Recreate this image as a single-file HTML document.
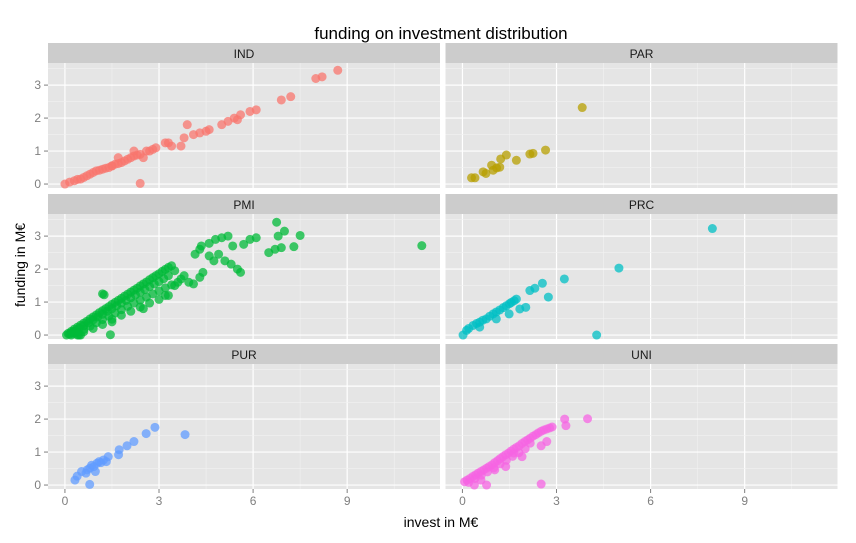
<!DOCTYPE html>
<html><head><meta charset="utf-8"><style>
body{margin:0;background:#fff}
svg{display:block;font-family:"Liberation Sans",sans-serif}
</style></head><body>
<svg id="chart" width="856" height="543">
<text x="441" y="39" text-anchor="middle" font-size="17" fill="#000">funding on investment distribution</text>
<text x="441" y="527" text-anchor="middle" font-size="14" fill="#000">invest in M€</text>
<text transform="translate(25,265) rotate(-90)" text-anchor="middle" font-size="14" fill="#000">funding in M€</text>
</svg>
<script>
const facets = ["IND","PAR","PMI","PRC","PUR","UNI"];
const colors = ["#F8766D","#B79F00","#00BA38","#00BFC4","#619CFF","#F564E3"];
const xTicks = [0,3,6,9];
const yTicks = [0,1,2,3];
const indX=[0,0.15,0.3,0.4,0.5,0.6,0.7,0.8,0.9,1,1.1,1.2,1.3,1.4,1.5,1.6,1.7,1.8,1.9,2,2.1,2.2,2.3,1.7,1.5,2.4,2.6,2.7,2.8,2.9,2.2,2.5,2.4,3.2,3.3,3.4,3.7,3.8,3.9,4.1,4.3,4.5,4.6,5.0,5.2,5.4,5.6,5.9,6.1,5.5,6.9,7.2,8.0,8.2,8.7];
const indY=[0,0.06,0.1,0.14,0.15,0.2,0.25,0.3,0.35,0.4,0.42,0.45,0.48,0.5,0.55,0.6,0.62,0.65,0.7,0.75,0.8,0.85,0.88,0.8,0.55,0.9,1,1.0,1.05,1.1,1.0,0.8,0.02,1.25,1.25,1.15,1.15,1.4,1.8,1.5,1.55,1.6,1.65,1.8,1.9,2.0,2.1,2.2,2.25,1.95,2.55,2.65,3.2,3.25,3.45];
const parX=[0.29,0.4,0.66,0.75,0.93,0.98,1.09,1.19,1.22,1.4,1.72,2.15,2.25,2.65,3.82];
const parY=[0.19,0.19,0.37,0.32,0.57,0.42,0.49,0.51,0.76,0.88,0.72,0.91,0.93,1.03,2.32];
const pmiX=[0.1,0.2,0.3,0.4,0.5,0.6,0.7,0.8,0.9,1.0,1.1,1.2,1.3,1.4,1.5,1.6,1.7,1.8,1.9,2.0,2.1,2.2,2.3,2.4,2.5,2.6,2.7,2.8,2.9,3.0,3.1,3.2,3.3,3.4,
0.2,0.3,0.45,0.6,0.75,0.9,1.05,1.2,1.35,1.5,1.65,1.8,1.95,2.1,2.25,2.4,2.55,2.7,2.85,3.0,3.15,3.3,3.5,
0.3,0.4,0.6,0.8,1.0,1.2,1.4,1.6,1.8,2.0,2.2,2.4,2.6,2.8,3.0,3.2,3.4,3.6,
0.4,0.6,0.9,1.2,1.5,1.8,2.1,2.4,2.7,3.0,3.3,
0.05,0.15,0.25,0.35,0.2,0.5,0.45,1.2,1.25,1.45,1.5,2.5,3.2,3.5,3.7,3.8,3.95,4.1,4.3,4.4,4.6,4.9,4.75,5.1,5.3,5.5,5.6,4.15,4.3,4.35,4.6,4.8,5.0,5.2,5.35,5.7,5.9,6.1,6.5,6.7,6.9,6.8,7.0,7.3,6.75,7.5,11.38];
const pmiY=[0.05,0.11,0.18,0.24,0.3,0.36,0.42,0.49,0.55,0.61,0.68,0.74,0.8,0.86,0.93,0.99,1.05,1.11,1.18,1.24,1.3,1.36,1.42,1.49,1.55,1.61,1.68,1.74,1.8,1.86,1.93,1.99,2.05,2.1,
0.07,0.12,0.2,0.28,0.37,0.46,0.55,0.63,0.72,0.8,0.89,0.97,1.05,1.13,1.22,1.3,1.38,1.47,1.55,1.62,1.71,1.8,1.95,
0.05,0.08,0.17,0.27,0.37,0.47,0.57,0.67,0.77,0.87,0.97,1.06,1.15,1.25,1.34,1.43,1.52,1.6,
0.0,0.1,0.2,0.32,0.48,0.6,0.72,0.85,0.97,1.08,1.2,
0.0,0.03,0.06,0.1,0,0,0,1.25,1.22,0.01,0.4,0.8,1.2,1.5,1.7,1.8,1.6,1.55,1.75,1.9,2.4,2.45,2.25,2.25,2.15,2.0,1.9,2.45,2.6,2.7,2.78,2.9,2.95,3.0,2.7,2.75,2.9,2.95,2.5,2.6,2.65,3.0,3.15,2.68,3.42,3.02,2.71];
const prcX=[0.02,0.13,0.2,0.34,0.45,0.55,0.65,0.76,0.87,0.98,1.08,1.19,1.3,1.4,1.5,1.56,1.65,1.72,0.55,1.08,1.49,1.83,2.02,2.15,2.31,2.55,2.74,3.25,4.28,4.99,7.97];
const prcY=[0,0.14,0.2,0.29,0.35,0.39,0.45,0.49,0.57,0.64,0.7,0.76,0.83,0.89,0.95,0.99,1.04,1.09,0.24,0.49,0.64,0.79,0.84,1.35,1.42,1.57,1.15,1.7,0,2.03,3.23];
const purX=[0.32,0.39,0.67,0.79,0.79,0.92,1.02,1.09,0.97,1.23,1.38,1.32,1.71,1.73,1.98,2.2,2.59,2.87,3.83,0.71,0.53,0.85,1.15];
const purY=[0.15,0.27,0.36,0.51,0.02,0.56,0.66,0.71,0.41,0.76,0.86,0.71,0.92,1.07,1.19,1.32,1.56,1.75,1.53,0.46,0.41,0.6,0.68];
const uniX=[0.07,0.15,0.24,0.33,0.42,0.5,0.59,0.68,0.77,0.85,0.94,1.03,1.12,1.2,1.29,1.38,1.47,1.55,1.64,1.72,1.81,1.9,1.99,2.08,2.16,2.25,2.34,2.42,2.51,2.6,2.69,2.78,2.86,0.2,0.4,0.6,0.8,1.0,1.2,1.4,1.6,1.8,2.0,0.38,0.77,2.51,2.51,2.69,3.3,3.26,3.99,1.9,1.38,1.03,0.59,1.64,2.16];
const uniY=[0.1,0.15,0.2,0.26,0.31,0.36,0.41,0.46,0.51,0.56,0.61,0.68,0.74,0.8,0.86,0.92,0.97,1.03,1.09,1.14,1.19,1.26,1.32,1.37,1.42,1.48,1.53,1.58,1.63,1.67,1.7,1.73,1.76,0.08,0.2,0.3,0.4,0.52,0.64,0.75,0.87,0.98,1.1,0,0,0.03,1.19,1.32,1.8,2.0,2.01,0.86,0.56,0.46,0.15,0.97,1.27];
const seriesX=[indX,parX,pmiX,prcX,purX,uniX];
const seriesY=[indY,parY,pmiY,prcY,purY,uniY];

const NS="http://www.w3.org/2000/svg";
const svg=document.getElementById('chart');
const colX=[48,445.5], rowY=[43,194,344], PW=392, SH=20, PH=125;
const xMin=-0.54, xMax=11.96, yMin=-0.12, yMax=3.67;
function mk(tag,attrs){const e=document.createElementNS(NS,tag);for(const k in attrs)e.setAttribute(k,attrs[k]);svg.appendChild(e);return e;}
facets.forEach((f,i)=>{
  const c=i%2, r=Math.floor(i/2);
  const px=colX[c], sy=rowY[r], py=sy+SH;
  const sx=v=>px+(v-xMin)/(xMax-xMin)*PW;
  const syf=v=>py+PH-(v-yMin)/(yMax-yMin)*PH;
  const strip=mk('rect',{x:px,y:sy,width:PW,height:SH,fill:'#cccccc'});
  
  
  const st=mk('text',{x:px+PW/2,y:sy+15,'text-anchor':'middle','font-size':12,fill:'#1a1a1a'});st.textContent=f;
  
  
  const bg=mk('rect',{x:px,y:py,width:PW,height:PH,fill:'#e5e5e5'});
  
  
  xTicks.forEach(t=>{
    const m=mk('line',{x1:sx(t+1.5),x2:sx(t+1.5),y1:py,y2:py+PH,stroke:'#f2f2f2','stroke-width':0.6});
    
    
    const g=mk('line',{x1:sx(t),x2:sx(t),y1:py,y2:py+PH,stroke:'#fff','stroke-width':1.2});
    
    
  });
  yTicks.forEach(t=>{
    const m=mk('line',{x1:px,x2:px+PW,y1:syf(t+0.5),y2:syf(t+0.5),stroke:'#f2f2f2','stroke-width':0.6});
    
    
    const g=mk('line',{x1:px,x2:px+PW,y1:syf(t),y2:syf(t),stroke:'#fff','stroke-width':1.2});
    
    
  });
  if(c===0){yTicks.forEach(t=>{
    const tk=mk('line',{x1:px-4,x2:px,y1:syf(t),y2:syf(t),stroke:'#7f7f7f'});
    
    
    const tl=mk('text',{x:px-7,y:syf(t)+4,'text-anchor':'end','font-size':12,fill:'#7f7f7f'});tl.textContent=t;
    
    
  });}
  if(r===2){xTicks.forEach(t=>{
    const tk=mk('line',{x1:sx(t),x2:sx(t),y1:py+PH,y2:py+PH+4,stroke:'#7f7f7f'});
    
    
    const tl=mk('text',{x:sx(t),y:py+PH+16,'text-anchor':'middle','font-size':12,fill:'#7f7f7f'});tl.textContent=t;
    
    
  });}
  seriesX[i].forEach((v,j)=>{
    const p=mk('circle',{cx:sx(v),cy:syf(seriesY[i][j]),r:4.5,fill:colors[i],'fill-opacity':0.75});
    
    
  });
});
</script>
</body></html>
